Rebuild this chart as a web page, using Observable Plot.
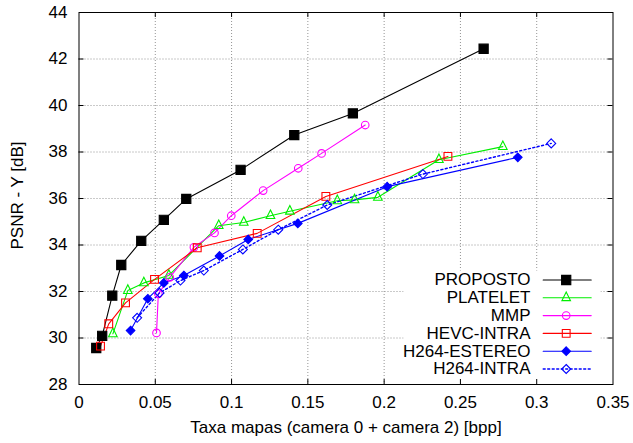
<!DOCTYPE html>
<html><head><meta charset="utf-8">
<script src="https://cdn.jsdelivr.net/npm/d3@7"></script>
<script src="https://cdn.jsdelivr.net/npm/@observablehq/plot@0.6"></script>
<style>body{margin:0;background:#fff}</style>
</head><body><div id="chart"></div>
<script>
const seriesNames = ["PROPOSTO","PLATELET","MMP","HEVC-INTRA","H264-ESTEREO","H264-INTRA"];
const propostoX = [0.0113, 0.0152, 0.0218, 0.0277, 0.0408, 0.0556, 0.0703, 0.1059, 0.1411, 0.1795, 0.2652];
const propostoY = [29.57, 30.09, 31.82, 33.14, 34.18, 35.08, 35.98, 37.23, 38.73, 39.66, 42.44];
const plateletX = [0.0222, 0.0320, 0.0425, 0.0589, 0.0916, 0.1080, 0.1255, 0.1382, 0.1693, 0.1806, 0.1959, 0.2359, 0.2778];
const plateletY = [30.18, 32.04, 32.37, 32.69, 34.83, 34.97, 35.26, 35.45, 35.90, 35.94, 36.05, 37.67, 38.23];
const mmpX = [0.0508, 0.0520, 0.0595, 0.0753, 0.0888, 0.0998, 0.1207, 0.1437, 0.1590, 0.1876];
const mmpY = [30.22, 31.90, 32.61, 33.90, 34.52, 35.26, 36.34, 37.30, 37.94, 39.16];
const hevcX = [0.0141, 0.0195, 0.0305, 0.0495, 0.0775, 0.1168, 0.1618, 0.2418];
const hevcY = [29.65, 30.61, 31.51, 32.52, 33.88, 34.50, 36.09, 37.81];
const estereoX = [0.0338, 0.0451, 0.0556, 0.0687, 0.0921, 0.1109, 0.1434, 0.2020, 0.2876];
const estereoY = [30.32, 31.69, 32.37, 32.69, 33.53, 34.24, 34.93, 36.51, 37.77];
const intraX = [0.0381, 0.0528, 0.0665, 0.0818, 0.1074, 0.1306, 0.1627, 0.2254, 0.3095];
const intraY = [30.87, 31.94, 32.47, 32.90, 33.81, 34.66, 35.72, 37.05, 38.37];

const xTicks = [0, 0.05, 0.1, 0.15, 0.2, 0.25, 0.3, 0.35];
const xTickLabels = ["0", "0.05", "0.1", "0.15", "0.2", "0.25", "0.3", "0.35"];
const yTicks = [28, 30, 32, 34, 36, 38, 40, 42, 44];
const xTitle = "Taxa mapas (camera 0 + camera 2) [bpp]";
const yTitle = "PSNR - Y [dB]";

// layout
const W = 633, H = 443, mL = 78.5, mR = 20.5, mT = 12, mB = 59;
const plotW = W - mL - mR, plotH = H - mT - mB;
const xDom = [0, 0.35], yDom = [28, 44];
const px2x = px => xDom[0] + (px - mL) / plotW * (xDom[1] - xDom[0]);
const py2y = py => yDom[1] - (py - mT) / plotH * (yDom[1] - yDom[0]);

// gnuplot-like symbols (h = half extent = r)
const hOf = size => Math.sqrt(size / Math.PI);
const symSquare = {draw(c, s) {const h = hOf(s); c.moveTo(-h, -h); c.lineTo(h, -h); c.lineTo(h, h); c.lineTo(-h, h); c.closePath();}};
const symTriangle = {draw(c, s) {const h = hOf(s); c.moveTo(0, -4/3*h); c.lineTo(h, 2/3*h); c.lineTo(-h, 2/3*h); c.closePath();}};
const symDiamond = {draw(c, s) {const h = hOf(s); c.moveTo(0, -h); c.lineTo(h, 0); c.lineTo(0, h); c.lineTo(-h, 0); c.closePath();}};
const symCircle = {draw(c, s) {const h = hOf(s); c.moveTo(h, 0); c.arc(0, 0, h, 0, 2*Math.PI); c.closePath();}};

const seriesX = [propostoX, plateletX, mmpX, hevcX, estereoX, intraX];
const seriesY = [propostoY, plateletY, mmpY, hevcY, estereoY, intraY];
const styles = [
  {color: "#000000", symbol: symSquare, r: 4.6, filled: true, dash: null},
  {color: "#00ee00", symbol: symTriangle, r: 4.3, filled: false, dash: null},
  {color: "#ff00ff", symbol: symCircle, r: 3.8, filled: false, dash: null},
  {color: "#ff0000", symbol: symSquare, r: 3.9, filled: false, dash: null},
  {color: "#0000ff", symbol: symDiamond, r: 4.3, filled: true, dash: null},
  {color: "#0000ff", symbol: symDiamond, r: 4.5, filled: false, dash: "2,2.5"}
];

const series = seriesNames.map((name, i) => ({
  name, style: styles[i],
  rows: seriesX[i].map((x, j) => ({series: name, x, y: seriesY[i][j]}))
}));

const gridX = xTicks.slice(1, -1), gridY = yTicks.slice(1, -1);

// legend layout (pixels -> data)
const legTextPx = 530, legLine = [542.7, 590.7], legMarkPx = 565.7;
const legRowPx = i => 279.5 + i * 17.8;

const marks = [
  Plot.ruleX(gridX, {x: d => d, stroke: "#888", strokeWidth: 0.9, strokeDasharray: "1,2"}),
  Plot.ruleY(gridY, {y: d => d, stroke: "#888", strokeWidth: 0.9, strokeDasharray: "1,2"}),
  Plot.frame({fill: "white", stroke: null, insetLeft: 403 - mL, insetRight: (W - mR) - 600, insetTop: 270 - mT, insetBottom: 0})
];

for (const s of series) {
  marks.push(Plot.line(s.rows, {x: "x", y: "y", stroke: s.style.color, strokeWidth: s.style.dash ? 1.4 : 1.1, strokeDasharray: s.style.dash}));
}
for (const s of series) {
  marks.push(Plot.dot(s.rows, {x: "x", y: "y", symbol: s.style.symbol, r: s.style.r,
    stroke: s.style.color, strokeWidth: 1.1, fill: s.style.filled ? s.style.color : "none"}));
}
// legend
series.forEach((s, i) => {
  const yy = py2y(legRowPx(i));
  const lineRows = legLine.map(px => ({x: px2x(px), y: yy}));
  marks.push(Plot.line(lineRows, {x: "x", y: "y", stroke: s.style.color, strokeWidth: s.style.dash ? 1.4 : 1.1, strokeDasharray: s.style.dash}));
  marks.push(Plot.dot([{x: px2x(legMarkPx), y: yy}], {x: "x", y: "y", symbol: s.style.symbol, r: s.style.r,
    stroke: s.style.color, strokeWidth: 1.1, fill: s.style.filled ? s.style.color : "none"}));
  marks.push(Plot.text([s.name], {x: px2x(legTextPx), y: yy, text: d => d, textAnchor: "end", lineAnchor: "middle", fill: "black"}));
});

marks.push(
  Plot.frame({stroke: "black", strokeWidth: 1}),
  Plot.tickX(gridX, {x: d => d, insetTop: plotH - 5, stroke: "black"}),
  Plot.tickX(gridX, {x: d => d, insetBottom: plotH - 5, stroke: "black"}),
  Plot.tickY(gridY, {y: d => d, insetRight: plotW - 5, stroke: "black"}),
  Plot.tickY(gridY, {y: d => d, insetLeft: plotW - 5, stroke: "black"}),
  Plot.axisX({ticks: xTicks, tickFormat: d => xTickLabels[xTicks.indexOf(d)], tickSize: 0, tickPadding: 11, label: null}),
  Plot.axisY({ticks: yTicks, tickSize: 0, tickPadding: 11.5, label: null}),
  Plot.text([xTitle], {frameAnchor: "bottom", dy: 43, text: d => d, textAnchor: "middle", lineAnchor: "middle", fill: "black"}),
  Plot.text([yTitle], {frameAnchor: "left", dx: 17 - mL, dy: -3, rotate: -90, text: d => d, textAnchor: "middle", lineAnchor: "middle", fill: "black"})
);

const chart = Plot.plot({
  width: W, height: H,
  marginLeft: mL, marginRight: mR, marginTop: mT, marginBottom: mB,
  x: {domain: xDom, axis: null},
  y: {domain: yDom, axis: null},
  style: {fontFamily: "'Liberation Sans', Arial, Helvetica, sans-serif", fontSize: "17px", background: "white", color: "black"},
  marks
});
document.getElementById("chart").appendChild(chart);
</script>
</body></html>
